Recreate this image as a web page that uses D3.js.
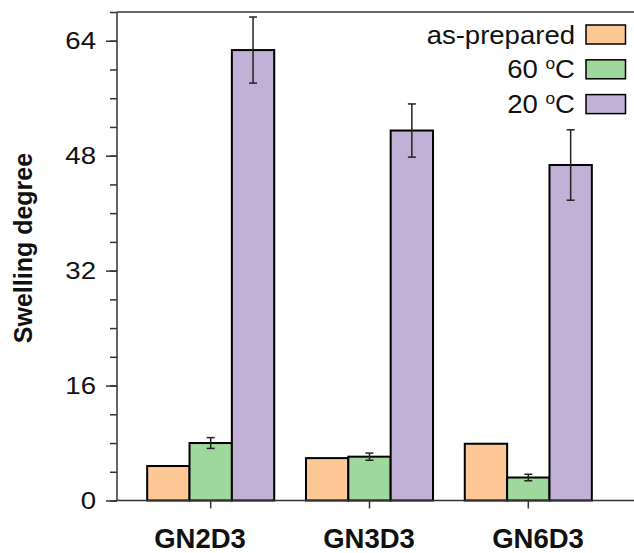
<!DOCTYPE html>
<html>
<head>
<meta charset="utf-8">
<script src="https://cdn.jsdelivr.net/npm/d3@7"></script>
<style>
  body { margin: 0; background: #fff; }
  text { font-family: "Liberation Sans", Arial, sans-serif; fill: #111; }
</style>
</head>
<body>
<script>
// samples and series
var categories = ['GN2D3', 'GN3D3', 'GN6D3'];
var series = ['as-prepared', '60', '20'];
var seriesColors = ['#fdc895', '#9fd89c', '#c2b1d6'];

// swelling degree values
var asPrepared = [4.8, 5.9, 7.9];
var c60 = [8.0, 6.1, 3.2];
var c60Err = [0.75, 0.5, 0.45];
var c20 = [62.7, 51.5, 46.7];
var c20Err = [4.6, 3.7, 4.9];

var yTicks = [0, 16, 32, 48, 64];
var yMinor = d3.range(0, 69, 4);

var width = 634, height = 553;
// note: "top" is a read-only global in browsers, so use other names
var plotLeft = 117, plotRight = 634, plotTop = 12, plotBottom = 500.5;

var svg = d3.select('body').append('svg')
  .attr('width', width)
  .attr('height', height);

var x = d3.scaleBand()
  .domain(categories)
  .range([plotLeft, 622])
  .paddingInner(0.2)
  .paddingOuter(0.19);

var xs = d3.scaleBand()
  .domain(series)
  .range([0, x.bandwidth()]);

// the category labels sit a bit off the ticks in the original
var xLabel = d3.scalePoint()
  .domain(categories)
  .range([200, 538]);

var y = d3.scaleLinear()
  .domain([0, 68])
  .range([plotBottom, plotTop]);

var color = d3.scaleOrdinal().domain(series).range(seriesColors);

var rows = categories.map(function(c, i) {
  return {
    cat: c,
    bars: [
      { s: 'as-prepared', v: asPrepared[i], e: 0 },
      { s: '60', v: c60[i], e: c60Err[i] },
      { s: '20', v: c20[i], e: c20Err[i] }
    ]
  };
});

// bars
var groups = svg.append('g').selectAll('g')
  .data(rows)
  .enter().append('g')
  .attr('transform', function(d) { return 'translate(' + x(d.cat) + ',0)'; });

groups.selectAll('rect')
  .data(function(d) { return d.bars; })
  .enter().append('rect')
  .attr('x', function(d) { return xs(d.s); })
  .attr('y', function(d) { return y(d.v); })
  .attr('width', xs.bandwidth())
  .attr('height', function(d) { return y(0) - y(d.v); })
  .attr('fill', function(d) { return color(d.s); })
  .attr('stroke', '#000')
  .attr('stroke-width', 2);

// error bars
var eb = groups.selectAll('g.err')
  .data(function(d) { return d.bars.filter(function(b) { return b.e > 0; }); })
  .enter().append('g')
  .attr('class', 'err')
  .attr('stroke', '#222')
  .attr('stroke-width', 1.5);

eb.append('line')
  .attr('x1', function(d) { return xs(d.s) + xs.bandwidth() / 2; })
  .attr('x2', function(d) { return xs(d.s) + xs.bandwidth() / 2; })
  .attr('y1', function(d) { return y(d.v + d.e); })
  .attr('y2', function(d) { return y(d.v - d.e); });

[1, -1].forEach(function(sign) {
  eb.append('line')
    .attr('x1', function(d) { return xs(d.s) + xs.bandwidth() / 2 - 4; })
    .attr('x2', function(d) { return xs(d.s) + xs.bandwidth() / 2 + 4; })
    .attr('y1', function(d) { return y(d.v + sign * d.e); })
    .attr('y2', function(d) { return y(d.v + sign * d.e); });
});

// frame lines: bottom axis and top line
var axisColor = '#333';
svg.append('line')
  .attr('x1', plotLeft).attr('x2', plotRight).attr('y1', plotTop).attr('y2', plotTop)
  .attr('stroke', axisColor).attr('stroke-width', 1.5);
svg.append('line')
  .attr('x1', plotLeft).attr('x2', plotRight).attr('y1', plotBottom).attr('y2', plotBottom)
  .attr('stroke', axisColor).attr('stroke-width', 1.5);

// y axis with minor ticks
var yAxis = svg.append('g').attr('transform', 'translate(' + plotLeft + ',0)');
yAxis.call(d3.axisLeft(y).tickValues(yMinor).tickSize(7).tickFormat(''))
  .call(function(g) { g.select('.domain').remove(); });
yAxis.append('g').call(d3.axisLeft(y).tickValues(yTicks).tickSize(11).tickFormat(d3.format('d')));
yAxis.selectAll('line').attr('stroke', axisColor).attr('stroke-width', 1.5);
yAxis.selectAll('.domain').attr('stroke', axisColor).attr('stroke-width', 1.5)
  .attr('d', 'M0,' + plotTop + 'V' + plotBottom);
yAxis.selectAll('text')
  .attr('x', null)
  .attr('dy', '0.35em')
  .attr('transform', 'translate(-21,0) scale(1.2,1)')
  .style('font-size', '23px')
  .style('font-family', '"Liberation Sans", Arial, sans-serif')
  .attr('fill', '#111');

// x axis ticks
svg.append('g')
  .attr('transform', 'translate(0,' + plotBottom + ')')
  .selectAll('line')
  .data(categories)
  .enter().append('line')
  .attr('x1', function(d) { return x(d) + x.bandwidth() / 2; })
  .attr('x2', function(d) { return x(d) + x.bandwidth() / 2; })
  .attr('y1', 0).attr('y2', 8)
  .attr('stroke', axisColor).attr('stroke-width', 1.5);

svg.append('g').selectAll('text')
  .data(categories)
  .enter().append('text')
  .attr('x', function(d) { return xLabel(d); })
  .attr('y', 548)
  .attr('text-anchor', 'middle')
  .style('font-size', '27.5px')
  .style('font-weight', 'bold')
  .text(function(d) { return d; });

// y title
svg.append('text')
  .attr('transform', 'translate(32,248) rotate(-90)')
  .attr('text-anchor', 'middle')
  .style('font-size', '25px')
  .style('font-weight', 'bold')
  .text('Swelling degree');

// legend
var legend = svg.append('g').selectAll('g')
  .data(series)
  .enter().append('g')
  .attr('transform', function(d, i) { return 'translate(0,' + (34.5 + i * 34.8) + ')'; });

legend.append('rect')
  .attr('x', 586).attr('y', -9.5)
  .attr('width', 39.5).attr('height', 19)
  .attr('fill', function(d) { return color(d); })
  .attr('stroke', '#000')
  .attr('stroke-width', 1.5);

var lt = legend.append('text')
  .attr('transform', 'translate(575,9) scale(1.08,1)')
  .attr('text-anchor', 'end')
  .style('font-size', '25.5px');

lt.each(function(d) {
  var t = d3.select(this);
  if (d === 'as-prepared') {
    t.text(d);
  } else {
    t.append('tspan').text(d + ' ');
    t.append('tspan').attr('dy', -9).style('font-size', '16px').text('o');
    t.append('tspan').attr('dy', 9).text('C');
  }
});
</script>
</body>
</html>
